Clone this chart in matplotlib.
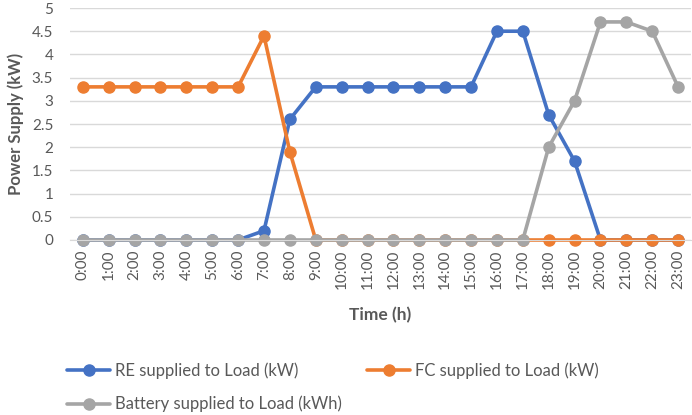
import numpy as np
import matplotlib
matplotlib.use('Agg')
import matplotlib.pyplot as plt

# Data
hours = ['%d:00' % h for h in range(24)]
re_load = [0, 0, 0, 0, 0, 0, 0, 0.2, 2.6, 3.3, 3.3, 3.3, 3.3, 3.3, 3.3, 3.3,
           4.5, 4.5, 2.7, 1.7, 0, 0, 0, 0]
fc_load = [3.3, 3.3, 3.3, 3.3, 3.3, 3.3, 3.3, 4.4, 1.9, 0, 0, 0, 0, 0, 0, 0,
           0, 0, 0, 0, 0, 0, 0, 0]
batt_load = [0, 0, 0, 0, 0, 0, 0, 0, 0, 0, 0, 0, 0, 0, 0, 0,
             0, 0, 2.0, 3.0, 4.7, 4.7, 4.5, 3.3]
yticks = [0, 0.5, 1, 1.5, 2, 2.5, 3, 3.5, 4, 4.5, 5]

plt.rcParams['font.family'] = ['Lato', 'DejaVu Sans']
txt = '#595959'

fig = plt.figure(figsize=(6.92, 4.15), dpi=100)
ax = fig.add_axes([0.101, 0.4217, 0.8976, 0.559])

x = np.arange(len(hours))
series = [
    (re_load, '#4472C4', 'RE supplied to Load (kW)'),
    (fc_load, '#ED7D31', 'FC supplied to Load (kW)'),
    (batt_load, '#A5A5A5', 'Battery supplied to Load (kWh)'),
]
handles = []
for vals, col, lab in series:
    h, = ax.plot(x, vals, color=col, lw=2.6, marker='o', ms=8,
                 label=lab, solid_capstyle='round', clip_on=False)
    handles.append(h)

ax.set_xlim(-0.5, 23.5)
ax.set_ylim(0, 5)
ax.set_yticks(yticks)
ax.set_yticklabels(['%g' % v for v in yticks])
ax.set_xticks(x)
ax.set_xticklabels(hours, rotation=90)
ax.tick_params(axis='both', length=0, colors=txt, labelsize=11)
ax.tick_params(axis='y', pad=12)
ax.tick_params(axis='x', pad=7)
ax.grid(axis='y', color='#D9D9D9', lw=1)
ax.set_axisbelow(True)
for s in ['top', 'right', 'left']:
    ax.spines[s].set_visible(False)
ax.spines['bottom'].set_color('#D9D9D9')

ax.set_ylabel('Power Supply (kW)', fontsize=12, fontweight='bold', color=txt, labelpad=6)
ax.set_xlabel('Time (h)', fontsize=12.5, fontweight='bold', color=txt, labelpad=13)

# matplotlib fills legend column-wise, so order handles for row-wise layout
leg_order = [handles[0], handles[2], handles[1]]
leg = fig.legend(handles=leg_order, loc='lower left', bbox_to_anchor=(0.075, -0.03),
                 ncol=2, frameon=False, fontsize=12, labelcolor=txt,
                 handlelength=2.6, handletextpad=0.3, columnspacing=1.5,
                 labelspacing=1.0)

fig.savefig('out.png', dpi=100)
